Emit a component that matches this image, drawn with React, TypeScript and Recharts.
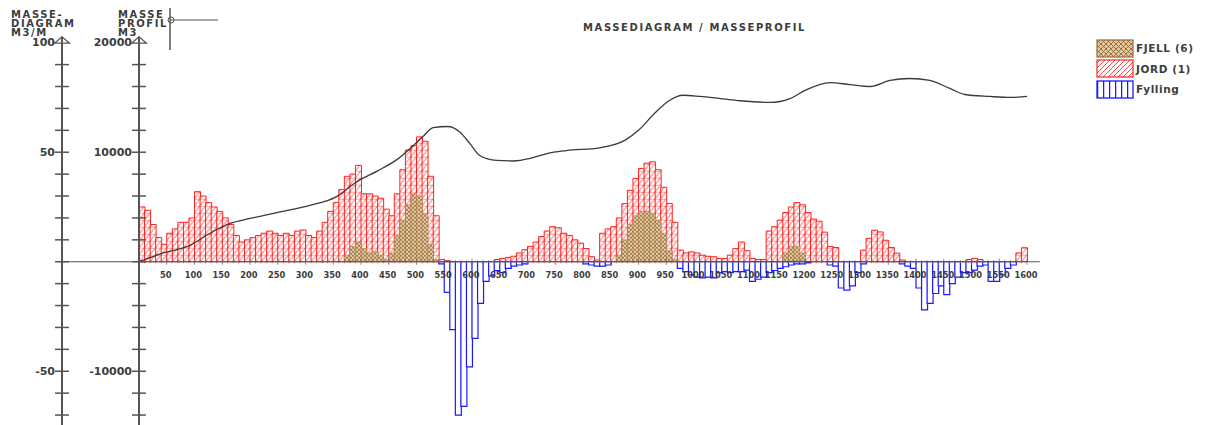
import React from "react";
import { ComposedChart, Bar, Line, XAxis, YAxis, ReferenceLine } from "recharts";

// ---------- data ----------
// stations (m) – each bar covers [s, s+10]
const stations = Array.from({ length: 160 }, (_, i) => i * 10);

// JORD (1) – M3/M
const jord = [
  25, 23.5, 17, 11, 8, 13, 15, 18, 18, 20,
  32, 30, 27, 25, 23, 20, 17, 12, 9, 10,
  11, 12, 13, 14, 13, 12, 13, 12, 14, 14.5,
  12, 11, 14, 18, 23, 27, 33, 39, 40, 44,
  31, 31, 30, 29, 24, 21, 31, 42, 51, 53,
  57, 55, 39, 21, 1, 0.5, 0, 0, 0, 0,
  0, 0, 0, 0, 1, 1.5, 2, 2.5, 4, 5.5,
  7, 9, 11.5, 14, 16, 15.5, 13, 12, 10, 8.5,
  6, 2.3, 0.8, 13, 15, 16, 20, 26.5, 32.6, 38,
  42.6, 45, 45.6, 42, 34, 26.6, 18, 5.3, 4, 4.5,
  4, 3, 2.5, 2.3, 1.5, 1.5, 3, 6, 9, 5,
  1.5, 1, 1, 14, 16, 19, 22.5, 25, 27, 26,
  22.5, 19.5, 18.5, 13.5, 7, 6.5, 0, 0, 0, 0,
  5.3, 10.7, 14.4, 13.6, 9.8, 6.5, 3.9, 0.8, 0, 0,
  0, 0, 0, 0, 0, 0, 0, 0, 0, 1,
  1.5, 1, 0, 0, 0, 0, 0, 0, 4, 6.4,
];

// FJELL (6) – M3/M
const fjell = [
  0, 0, 0, 0, 0, 0, 0, 0, 0, 0,
  0, 0, 0, 0, 0, 0, 0, 0, 0, 0,
  0, 0, 0, 0, 0, 0, 0, 0, 0, 0,
  0, 0, 0, 0, 0, 0, 0, 3, 7, 9,
  6, 4, 4.5, 3, 1, 4, 12, 19, 26, 31,
  30, 22, 8, 1, 0, 0, 0, 0, 0, 0,
  0, 0, 0, 0, 0, 0, 0, 0, 0, 0,
  0, 0, 0, 0, 0, 0, 0, 0, 0, 0,
  0, 0, 0, 0, 0, 0, 3, 10, 17, 21,
  23, 23, 22, 19, 13, 5, 1, 0, 0, 0,
  0, 0, 0, 0, 0, 0, 0, 0, 0, 0,
  0, 0, 0, 0, 0, 0, 4, 7, 7, 4,
  0, 0, 0, 0, 0, 0, 0, 0, 0, 0,
  0, 0, 0, 0, 0, 0, 0, 0, 0, 0,
  0, 0, 0, 0, 0, 0, 0, 0, 0, 0,
  0, 0, 0, 0, 0, 0, 0, 0, 0, 0,
];

// Fylling – M3/M
const fylling = [
  0, 0, 0, 0, 0, 0, 0, 0, 0, 0,
  0, 0, 0, 0, 0, 0, 0, 0, 0, 0,
  0, 0, 0, 0, 0, 0, 0, 0, 0, 0,
  0, 0, 0, 0, 0, 0, 0, 0, 0, 0,
  0, 0, 0, 0, 0, 0, 0, 0, 0, 0,
  0, 0, 0, 0, -1, -14, -31, -70, -66, -48,
  -35, -19, -9, -6.5, -4, -5, -3, -2, -1.5, -1,
  0, 0, 0, 0, 0, 0, 0, 0, 0, 0,
  -1, -1.5, -2, -2, -1.5, 0, 0, 0, 0, 0,
  0, 0, 0, 0, 0, 0, 0, -3, -4.5, -6,
  -7, -7.4, -7, -7.4, -5, -4.5, -5, -4.5, -4.5, -3.8,
  -9, -8, -7, -5, -4, -3, -2.3, -1.5, -1, -1,
  -0.5, 0, 0, 0, -1.5, -2, -12, -13, -11, -5,
  -1, 0, 0, 0, 0, 0, 0, -1, -2, -3,
  -12, -22, -19, -14.5, -11, -15, -10, -7, -5, -5,
  -3.8, -2, -1.5, -9, -9, -6, -3, -1.5, 0, 0,
];

// Masseprofil (M3) – curve
const profilStations = [
  0, 44, 92, 128, 164, 200, 254, 308, 356, 392, 430, 464, 494, 512, 530, 556,
  578, 596, 614, 644, 674, 705, 735, 770, 830, 876, 900, 930, 955, 980, 1011,
  1047, 1083, 1137, 1173, 1200, 1245, 1281, 1317, 1353, 1389, 1425, 1461, 1488,
  1533, 1570, 1600,
];
const profilValues = [
  0, 800, 1500, 2600, 3500, 3950, 4550, 5150, 5950, 7300, 8300, 9300, 10600,
  11450, 12250, 12350, 11850, 10800, 9700, 9250, 9200, 9430, 9880, 10150, 10400,
  11100, 12000, 13600, 14700, 15200, 15090, 14900, 14700, 14550, 14900, 15640,
  16360, 16180, 16000, 16550, 16730, 16550, 15820, 15270, 15090, 15000, 15090,
];

const xLabelValues = [
  50, 100, 150, 200, 250, 300, 350, 400, 450, 500, 550, 600, 650, 700, 750, 800,
  850, 900, 950, 1000, 1050, 1100, 1150, 1200, 1250, 1300, 1350, 1400, 1450,
  1500, 1550, 1600,
];
const xMinorTicks = Array.from({ length: 160 }, (_, i) => (i + 1) * 10);

const mTicks = [-70, -60, -50, -40, -30, -20, -10, 0, 10, 20, 30, 40, 50, 60, 70, 80, 90, 100];
const mLabels: Record<string, string> = { "100": "100", "50": "50", "-50": "-50" };
const vTicks = [-14000, -12000, -10000, -8000, -6000, -4000, -2000, 0, 2000, 4000, 6000, 8000, 10000, 12000, 14000, 16000, 18000, 20000];
const vLabels: Record<string, string> = { "20000": "20000", "10000": "10000", "-10000": "-10000" };

const legendItems = ["FJELL (6)", "JORD (1)", "Fylling"];
const leftTitle = ["MASSE-", "DIAGRAM", "M3/M"];
const rightTitle = ["MASSE", "PROFIL", "M3"];

// ---------- layout ----------
const W = 1211;
const CH = 456;
const TOP = 42.7;
const XH = 30;
const YMIN = -75;
const YMAX = 100;
const PH = CH - TOP - XH;
const ZERO_Y = TOP + (PH * YMAX) / (YMAX - YMIN);
const PLOT_LEFT = 139;
const AX = "#555";
const TXT = "#3d3d3d";
const FONT = "'DejaVu Sans', sans-serif";

const chartData = stations.map((s, i) => ({
  s,
  jord: jord[i] === 0 ? null : jord[i],
  fjell: fjell[i] === 0 ? null : fjell[i],
  fylling: fylling[i] === 0 ? null : fylling[i],
}));
const profil = profilStations.map((s, i) => ({ s, v: profilValues[i] }));

const makeYTick = (labels: Record<string, string>, topVal: number) => (props: any) => {
  const { x, y, payload } = props;
  const v = payload.value;
  const lab = labels[String(v)];
  return (
    <g>
      {v === topVal ? (
        <g>
          <line x1={x} x2={x} y1={y - 6} y2={y} stroke={AX} strokeWidth={2} />
          <path d={`M${x - 7.5},${y + 0.5} L${x},${y - 6} L${x + 7.5},${y + 0.5} Z`} fill="none" stroke={AX} strokeWidth={1.2} />
        </g>
      ) : (
        <line x1={x - 7} x2={x + 7} y1={y} y2={y} stroke={AX} strokeWidth={1.5} />
      )}
      {lab && (
        <text x={x - 7} y={y + 3.5} textAnchor="end" fontFamily={FONT} fontWeight="bold" fontSize={11} fill={TXT}>
          {lab}
        </text>
      )}
    </g>
  );
};

const XTick = (props: any) => {
  const { x, payload } = props;
  const v = payload.value;
  const major = xLabelValues.includes(v);
  return (
    <g>
      <line x1={x} x2={x} y1={ZERO_Y - (major ? 3 : 1.5)} y2={ZERO_Y + (major ? 3 : 1.5)} stroke="#666" strokeWidth={0.8} />
      {major && (
        <text x={x - 1} y={ZERO_Y + 16} textAnchor="middle" fontFamily={FONT} fontWeight="bold" fontSize={8.3} fill={TXT}>
          {v}
        </text>
      )}
    </g>
  );
};

const Swatch = ({ kind }: { kind: number }) => {
  if (kind === 0) {
    return (
      <svg width={38} height={19}>
        <defs>
          <pattern id="lgFjell" width={5} height={5} patternUnits="userSpaceOnUse">
            <rect width={5} height={5} fill="#e2c9a0" />
            <path d="M0,0 L5,5 M5,0 L0,5" stroke="#8b5a2b" strokeWidth={0.8} />
          </pattern>
        </defs>
        <rect x={1} y={1} width={36} height={17} fill="url(#lgFjell)" stroke="#9a6a3a" strokeWidth={1.2} />
      </svg>
    );
  }
  if (kind === 1) {
    return (
      <svg width={38} height={19}>
        <defs>
          <pattern id="lgJord" width={5} height={5} patternUnits="userSpaceOnUse">
            <rect width={5} height={5} fill="#fff" />
            <path d="M0,5 L5,0 M-1,1 L1,-1 M4,6 L6,4" stroke="#ff3030" strokeWidth={0.9} />
          </pattern>
        </defs>
        <rect x={1} y={1} width={36} height={17} fill="url(#lgJord)" stroke="#ff2020" strokeWidth={1.2} />
      </svg>
    );
  }
  return (
    <svg width={38} height={19}>
      <defs>
        <pattern id="lgFyll" width={6} height={19} patternUnits="userSpaceOnUse" x={1}>
          <rect width={6} height={19} fill="#fff" />
          <line x1={0.6} x2={0.6} y1={0} y2={19} stroke="#1a1aff" strokeWidth={1.3} />
        </pattern>
      </defs>
      <rect x={1} y={1} width={36} height={17} fill="url(#lgFyll)" stroke="#1a1aff" strokeWidth={1.3} />
    </svg>
  );
};

const txt = { fontFamily: FONT, fontWeight: "bold" as const, fill: TXT };

export default function App() {
  return (
    <div style={{ position: "absolute", left: 0, top: 0, width: W, height: 425, overflow: "hidden", background: "#fff" }}>
      <ComposedChart
        width={W}
        height={CH}
        data={chartData}
        margin={{ top: TOP, right: W - 1027, bottom: 0, left: 0 }}
        barCategoryGap={0}
        barGap={0}
      >
        <defs>
          <pattern id="patJord" width={5.55} height={7} patternUnits="userSpaceOnUse" x={PLOT_LEFT} y={ZERO_Y}>
            <rect width={5.55} height={7} fill="#fff" />
            <path d="M0,7 L5.55,0 M0,0 L5.55,0" stroke="#ff3a3a" strokeWidth={0.9} />
          </pattern>
          <pattern id="patFjell" width={4} height={4} patternUnits="userSpaceOnUse" x={PLOT_LEFT} y={ZERO_Y}>
            <rect width={4} height={4} fill="#e6cfa6" />
            <path d="M0,0 L4,4 M4,0 L0,4" stroke="#8b5a2b" strokeWidth={0.7} />
          </pattern>
        </defs>
        <XAxis xAxisId="a" dataKey="s" type="category" hide />
        <XAxis xAxisId="b" dataKey="s" type="category" hide />
        <XAxis xAxisId="c" dataKey="s" type="category" hide />
        <XAxis
          xAxisId="n"
          dataKey="s"
          type="number"
          domain={[0, 1600]}
          ticks={xMinorTicks}
          interval={0}
          axisLine={false}
          tickLine={false}
          tickSize={0}
          tickMargin={0}
          height={XH}
          tick={<XTick />}
        />
        <YAxis
          yAxisId="v1"
          orientation="left"
          width={77}
          domain={[YMIN * 200, YMAX * 200]}
          ticks={vTicks}
          interval={0}
          allowDataOverflow
          tickSize={0}
          tickMargin={0}
          tickLine={false}
          axisLine={{ stroke: AX, strokeWidth: 2 }}
          tick={makeYTick(vLabels, 20000)}
        />
        <YAxis
          yAxisId="v2"
          orientation="left"
          width={62}
          domain={[YMIN, YMAX]}
          ticks={mTicks}
          interval={0}
          allowDataOverflow
          tickSize={0}
          tickMargin={0}
          tickLine={false}
          axisLine={{ stroke: AX, strokeWidth: 2 }}
          tick={makeYTick(mLabels, 100)}
        />
        <Bar xAxisId="a" yAxisId="v2" dataKey="jord" fill="url(#patJord)" stroke="#ff2020" strokeWidth={1} isAnimationActive={false} />
        <Bar xAxisId="b" yAxisId="v2" dataKey="fjell" fill="url(#patFjell)" stroke="#b08050" strokeWidth={0.6} isAnimationActive={false} />
        <Bar xAxisId="c" yAxisId="v2" dataKey="fylling" fill="#fff" stroke="#1a1aff" strokeWidth={1.2} isAnimationActive={false} />
        <ReferenceLine
          xAxisId="n"
          yAxisId="v2"
          segment={[{ x: -139, y: 0 }, { x: 1623, y: 0 }]}
          ifOverflow="visible"
          stroke="#555"
          strokeWidth={1.2}
        />
        <Line
          xAxisId="n"
          yAxisId="v1"
          data={profil}
          dataKey="v"
          type="monotone"
          stroke="#3a3a3a"
          strokeWidth={1.3}
          dot={false}
          isAnimationActive={false}
        />
      </ComposedChart>

      <svg width={W} height={60} style={{ position: "absolute", left: 0, top: 0, pointerEvents: "none" }}>
        <text x={11} y={18} fontSize={10} letterSpacing={1.6} {...txt}>
          {leftTitle.map((t, i) => (
            <tspan key={t} x={11} y={18 + i * 9}>{t}</tspan>
          ))}
        </text>
        <text x={118} y={18} fontSize={10} letterSpacing={1.6} {...txt}>
          {rightTitle.map((t, i) => (
            <tspan key={t} x={118} y={18 + i * 9}>{t}</tspan>
          ))}
        </text>
        <line x1={170} x2={170} y1={8} y2={50} stroke={AX} strokeWidth={1.5} />
        <line x1={170} x2={218} y1={20} y2={20} stroke={AX} strokeWidth={1.2} />
        <circle cx={171} cy={20} r={3} fill="none" stroke={AX} strokeWidth={1} />
        <text x={583} y={31} fontSize={10} letterSpacing={1.6} {...txt}>MASSEDIAGRAM / MASSEPROFIL</text>
      </svg>

      <div style={{ position: "absolute", left: 1096, top: 38 }}>
        {legendItems.map((name, i) => (
          <div key={name} style={{ display: "flex", alignItems: "center", height: 20.5 }}>
            <Swatch kind={i} />
            <span style={{ fontFamily: FONT, fontWeight: "bold", fontSize: 10.5, color: TXT, marginLeft: 2, letterSpacing: 0.6 }}>
              {name}
            </span>
          </div>
        ))}
      </div>
    </div>
  );
}
